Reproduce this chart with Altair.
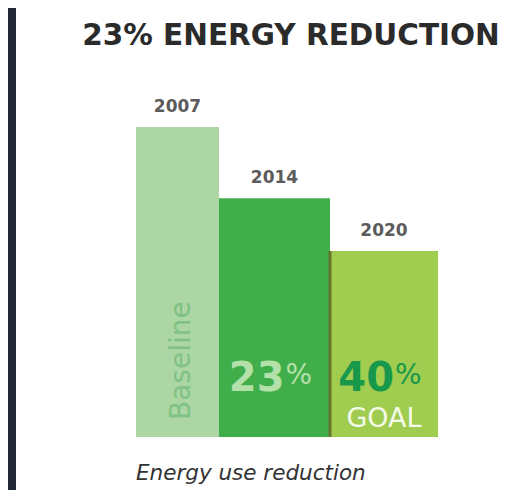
import altair as alt
import pandas as pd

# ---- data ----
years = ["2007", "2014", "2020"]
energy_use = [100, 77, 60]          # relative energy use (baseline = 100)
big_numbers = ["", "23", "40"]
percent_signs = ["", "%", "%"]
sub_labels = ["Baseline", "", "GOAL"]
title_text = "23% ENERGY REDUCTION"
caption_text = "Energy use reduction"

# ---- layout / style ----
bar_widths = [83, 111, 108]
bar_colors = ["#acd6a4", "#40ae4a", "#a0cc50"]
number_colors = ["#acd6a4", "#b4e0aa", "#17984a"]

starts, ends = [], []
pos = 0
for w in bar_widths:
    starts.append(pos)
    pos += w
    ends.append(pos)

df = pd.DataFrame({
    "year": years,
    "value": energy_use,
    "x0": starts,
    "x1": ends,
    "xc": [(a + b) / 2 for a, b in zip(starts, ends)],
    "color": bar_colors,
    "num": big_numbers,
    "pct": percent_signs,
    "numcolor": number_colors,
    "sub": sub_labels,
})

xs = alt.Scale(domain=[-120, 377], nice=False, zero=False)
ys = alt.Scale(domain=[-17.1, 138.4], nice=False, zero=False)

base = alt.Chart(df)

bars = base.mark_bar().encode(
    x=alt.X("x0:Q", scale=xs, axis=None),
    x2="x1:Q",
    y=alt.Y("value:Q", scale=ys, axis=None),
    y2=alt.datum(0),
    color=alt.Color("color:N", scale=None),
)

divider = base.transform_filter(alt.datum.year == "2020").mark_rule(
    color="#66752e", strokeWidth=3
).encode(
    x=alt.X("x0:Q", scale=xs, axis=None),
    y=alt.Y("value:Q", scale=ys, axis=None),
    y2=alt.datum(0),
)

year_labels = base.mark_text(
    font="DejaVu Sans", fontWeight="bold", fontSize=17, color="#5b5b5b",
    baseline="alphabetic", dy=-15,
).encode(
    x=alt.X("xc:Q", scale=xs, axis=None),
    y=alt.Y("value:Q", scale=ys, axis=None),
    text="year:N",
)

numbers = base.transform_filter(alt.datum.num != "").mark_text(
    font="DejaVu Sans", fontWeight="bold", fontSize=40,
    baseline="alphabetic", align="right", dx=10, dy=-46,
).encode(
    x=alt.X("xc:Q", scale=xs, axis=None),
    y=alt.Y(datum=0, scale=ys, axis=None),
    text="num:N",
    color=alt.Color("numcolor:N", scale=None),
)

pcts = base.transform_filter(alt.datum.pct != "").mark_text(
    font="DejaVu Sans", fontSize=28,
    baseline="alphabetic", align="left", dx=11, dy=-53,
).encode(
    x=alt.X("xc:Q", scale=xs, axis=None),
    y=alt.Y(datum=0, scale=ys, axis=None),
    text="pct:N",
    color=alt.Color("numcolor:N", scale=None),
)

goal = base.transform_filter(alt.datum.sub == "GOAL").mark_text(
    font="DejaVu Sans", fontSize=27, color="#f4fbe8",
    baseline="alphabetic", align="center", dy=-10,
).encode(
    x=alt.X("xc:Q", scale=xs, axis=None),
    y=alt.Y(datum=0, scale=ys, axis=None),
    text="sub:N",
)

baseline_lbl = base.transform_filter(alt.datum.sub == "Baseline").mark_text(
    font="DejaVu Sans", fontSize=28, color="#7fc283",
    baseline="alphabetic", align="left", angle=270, dx=17, dy=12,
).encode(
    x=alt.X("xc:Q", scale=xs, axis=None),
    y=alt.Y(datum=0, scale=ys, axis=None),
    text="sub:N",
)

caption = alt.Chart(pd.DataFrame({"t": [caption_text]})).mark_text(
    font="DejaVu Sans", fontStyle="italic", fontSize=21.5, color="#333333",
    baseline="alphabetic", align="left", dy=43,
).encode(
    x=alt.X(datum=0, scale=xs, axis=None),
    y=alt.Y(datum=0, scale=ys, axis=None),
    text="t:N",
)

title = alt.Chart(pd.DataFrame({"t": [title_text]})).mark_text(
    font="DejaVu Sans", fontWeight="bold", fontSize=29.5, color="#2b2b2b",
    baseline="alphabetic", align="center",
).encode(
    x=alt.value(275),
    y=alt.value(37),
    text="t:N",
)

chart = alt.layer(
    bars, divider, year_labels, numbers, pcts, goal, baseline_lbl, caption, title
).properties(
    width=497,
    height=482,
    background="#222835",
    padding={"left": 8, "top": 0, "right": 0, "bottom": 0},
    autosize="none",
).configure_view(fill="white", strokeWidth=0)

chart.save("out.html", embed_options={"renderer": "svg", "actions": False})
